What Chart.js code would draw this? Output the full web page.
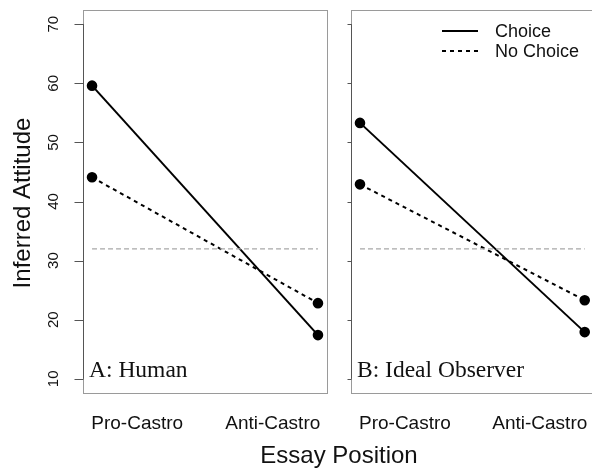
<!DOCTYPE html>
<html>
<head>
<meta charset="utf-8">
<script src="https://cdn.jsdelivr.net/npm/chart.js@4.4.1/dist/chart.umd.min.js"></script>
<style>
html,body{margin:0;padding:0;background:#fff;overflow:hidden;width:592px;height:469px;}
canvas{position:absolute;left:0;top:0;}
</style>
</head>
<body>
<canvas id="cA" width="592" height="469"></canvas>
<canvas id="cB" width="600" height="469"></canvas>
<script>
// ---- data ----
const categories = ['Pro-Castro', 'Anti-Castro'];
const categoryPositions = [1, 2];
const categoryLabelPositions = [1.2, 1.8];
const humanChoice = [59.6, 17.4];
const humanNoChoice = [44.1, 22.8];
const idealChoice = [53.3, 17.9];
const idealNoChoice = [42.9, 23.3];
const referenceLevel = [32, 32];
const yTicks = [10, 20, 30, 40, 50, 60, 70];
const seriesLabels = ['Choice', 'No Choice'];
const panelLabels = ['A: Human', 'B: Ideal Observer'];
const yTitle = 'Inferred Attitude';
const xTitle = 'Essay Position';

const SANS = '"Liberation Sans", Arial, Helvetica, sans-serif';
const SERIF = '"Liberation Serif", "Times New Roman", serif';

function pts(vals) { return vals.map((v, i) => ({x: categoryPositions[i], y: v})); }

function datasets(choice, noChoice) {
  return [
    {label: '_ref', data: pts(referenceLevel), borderColor: '#a8a8a8', borderWidth: 1.3,
     borderDash: [5, 3], pointRadius: 0, fill: false},
    {label: seriesLabels[0], data: pts(choice), borderColor: '#000', borderWidth: 2,
     pointRadius: 4.3, pointBackgroundColor: '#000', pointBorderColor: '#000', fill: false},
    {label: seriesLabels[1], data: pts(noChoice), borderColor: '#000', borderWidth: 2,
     borderDash: [4, 4], pointRadius: 4.3, pointBackgroundColor: '#000', pointBorderColor: '#000', fill: false}
  ];
}

function panelPlugin(idx) {
  return {
    id: 'panel' + idx,
    afterDraw(chart) {
      const ctx = chart.ctx, ca = chart.chartArea;
      const ys = chart.scales.y, xs = chart.scales.x;
      ctx.save();
      // box
      ctx.strokeStyle = '#9a9a9a';
      ctx.lineWidth = 1;
      ctx.strokeRect(Math.round(ca.left) + 0.5, Math.round(ca.top) + 0.5,
                     Math.round(ca.right - ca.left), Math.round(ca.bottom - ca.top));
      // y axis line + ticks
      const ax = Math.round(ca.left) + 0.5;
      ctx.strokeStyle = '#555';
      ctx.beginPath();
      ctx.moveTo(ax, ys.getPixelForValue(yTicks[0]));
      ctx.lineTo(ax, ys.getPixelForValue(yTicks[yTicks.length - 1]));
      const tl = idx === 0 ? 9 : 4;
      yTicks.forEach(t => {
        const py = Math.round(ys.getPixelForValue(t)) + 0.5;
        ctx.moveTo(ax, py); ctx.lineTo(ax - tl, py);
      });
      ctx.stroke();
      ctx.fillStyle = '#111';
      // y tick labels (panel A only)
      if (idx === 0) {
        ctx.font = '15px ' + SANS;
        ctx.textAlign = 'center';
        ctx.textBaseline = 'middle';
        yTicks.forEach(t => {
          ctx.save();
          ctx.translate(54, ys.getPixelForValue(t));
          ctx.rotate(-Math.PI / 2);
          ctx.fillText(String(t), 0, 0);
          ctx.restore();
        });
        // y title
        ctx.font = '24px ' + SANS;
        ctx.save();
        ctx.translate(23, 203);
        ctx.rotate(-Math.PI / 2);
        ctx.fillText(yTitle, 0, 0);
        ctx.restore();
        // x title
        ctx.textBaseline = 'alphabetic';
        ctx.fillText(xTitle, 339, 463);
      }
      // x tick labels
      ctx.font = '19px ' + SANS;
      ctx.textAlign = 'center';
      ctx.textBaseline = 'alphabetic';
      categories.forEach((c, i) => {
        ctx.fillText(c, xs.getPixelForValue(categoryLabelPositions[i]), 429);
      });
      // panel label
      ctx.font = '23.5px ' + SERIF;
      ctx.textAlign = 'left';
      ctx.fillText(panelLabels[idx], ca.left + 6, 377);
      // legend (panel B)
      if (idx === 1) {
        const ds = chart.data.datasets.slice(1);
        const rows = [31, 51];
        ds.forEach((d, i) => {
          ctx.strokeStyle = d.borderColor;
          ctx.lineWidth = d.borderWidth;
          ctx.setLineDash(d.borderDash || []);
          ctx.beginPath();
          ctx.moveTo(442, rows[i]); ctx.lineTo(478, rows[i]);
          ctx.stroke();
          ctx.setLineDash([]);
          ctx.font = '18px ' + SANS;
          ctx.textBaseline = 'middle';
          ctx.fillStyle = '#111';
          ctx.fillText(d.label, 495, rows[i] + 1);
        });
      }
      ctx.restore();
    }
  };
}

function makeChart(id, idx, choice, noChoice, padding) {
  return new Chart(document.getElementById(id), {
    type: 'line',
    data: {datasets: datasets(choice, noChoice)},
    options: {
      responsive: false,
      animation: false,
      devicePixelRatio: 1,
      layout: {padding: padding},
      plugins: {legend: {display: false}, tooltip: {enabled: false}, title: {display: false}},
      scales: {
        x: {type: 'linear', min: 0.96, max: 2.04, display: false},
        y: {type: 'linear', min: 7.6, max: 72.4, display: false}
      },
      elements: {line: {tension: 0}}
    },
    plugins: [panelPlugin(idx)]
  });
}

makeChart('cA', 0, humanChoice, humanNoChoice, {left: 83, top: 10, right: 265, bottom: 76});
makeChart('cB', 1, idealChoice, idealNoChoice, {left: 351, top: 10, right: 5, bottom: 76});
</script>
</body>
</html>
